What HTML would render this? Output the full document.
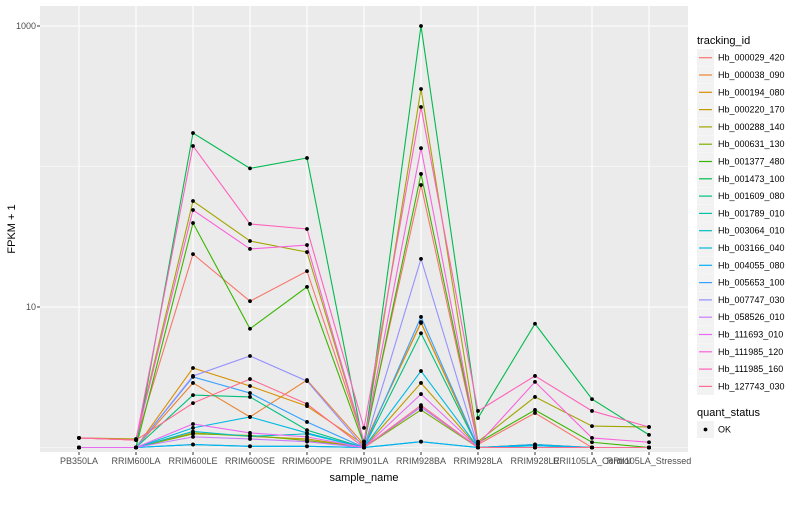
<!DOCTYPE html>
<html><head><meta charset="utf-8"><style>
body{margin:0;background:#fff;}
svg{font-family:"Liberation Sans",sans-serif;}
</style></head><body>
<svg id="chart" width="800" height="500"></svg>
<script>
const categories=["PB350LA","RRIM600LA","RRIM600LE","RRIM600SE","RRIM600PE","RRIM901LA","RRIM928BA","RRIM928LA","RRIM928LE","RRII105LA_Control","RRII105LA_Stressed"];
const seriesNames=["Hb_000029_420","Hb_000038_090","Hb_000194_080","Hb_000220_170","Hb_000288_140","Hb_000631_130","Hb_001377_480","Hb_001473_100","Hb_001609_080","Hb_001789_010","Hb_003064_010","Hb_003166_040","Hb_004055_080","Hb_005653_100","Hb_007747_030","Hb_058526_010","Hb_111693_010","Hb_111985_120","Hb_111985_160","Hb_127743_030"];
const seriesColors=["#F8766D","#EA8331","#D89000","#C09B00","#A3A500","#7CAE00","#39B600","#00BB4E","#00BF7D","#00C1A3","#00BFC4","#00BAE0","#00B0F6","#35A2FF","#9590FF","#C77CFF","#E76BF3","#FA62DB","#FF62BC","#FF6C91"];
const s000029_420=[1.17,1.13,23.8,11.0,18.0,1.1,73.8,1.05,1.76,1.0,1.0];
const s000038_090=[1.0,1.0,2.88,1.65,3.02,1.05,7.8,1.0,1.05,1.0,1.0];
const s000194_080=[1.0,1.0,3.68,2.74,1.97,1.05,7.7,1.0,1.05,1.0,1.0];
const s000220_170=[1.0,1.0,1.27,1.2,1.15,1.0,2.88,1.0,1.0,1.0,1.0];
const s000288_140=[1.17,1.15,56.8,29.5,24.6,1.1,356,1.1,2.29,1.42,1.40];
const s000631_130=[1.0,1.0,1.25,1.22,1.12,1.0,1.85,1.0,1.0,1.0,1.0];
const s001377_480=[1.0,1.0,39.6,7.0,13.9,1.05,88.5,1.08,1.85,1.09,1.0];
const s001473_100=[1.0,1.0,173,97,115,1.0,1000,1.62,7.6,2.21,1.23];
const s001609_080=[1.0,1.0,2.36,2.29,1.33,1.0,6.5,1.0,1.0,1.0,1.0];
const s001789_010=[1.0,1.0,1.05,1.02,1.02,1.0,1.1,1.0,1.03,1.0,1.0];
const s003064_010=[1.0,1.0,1.30,1.2,1.25,1.0,1.94,1.0,1.0,1.0,1.0];
const s003166_040=[1.0,1.0,1.38,1.65,1.27,1.0,3.5,1.0,1.03,1.0,1.0];
const s004055_080=[1.0,1.0,1.05,1.02,1.02,1.0,1.1,1.0,1.05,1.0,1.0];
const s005653_100=[1.0,1.0,3.18,2.44,1.52,1.0,8.5,1.0,1.0,1.0,1.0];
const s007747_030=[1.0,1.0,3.23,4.48,2.97,1.0,22,1.0,1.0,1.0,1.0];
const s058526_010=[1.0,1.0,1.19,1.15,1.1,1.0,1.94,1.0,1.0,1.0,1.0];
const s111693_010=[1.0,1.0,1.47,1.27,1.19,1.0,2.4,1.0,1.0,1.0,1.0];
const s111985_120=[1.17,1.13,49,25.9,27.6,1.1,135,1.05,2.93,1.17,1.09];
const s111985_160=[1.17,1.13,140,39,35.9,1.38,265,1.82,3.23,1.82,1.40];
const s127743_030=[1.17,1.13,2.07,3.07,2.04,1.0,2.0,1.0,1.0,1.0,1.0];
const seriesValues=[s000029_420,s000038_090,s000194_080,s000220_170,s000288_140,s000631_130,s001377_480,s001473_100,s001609_080,s001789_010,s003064_010,s003166_040,s004055_080,s005653_100,s007747_030,s058526_010,s111693_010,s111985_120,s111985_160,s127743_030];
const yTicks=[10,1000];
const yMinor=[1,100];

const NS="http://www.w3.org/2000/svg";
const svg=document.getElementById('chart');
const P={l:40,r:688,t:6,b:452};
function xs(i){return 79+i*57;}
function ys(v){return 447.5-Math.log10(v)*140.5;}
function el(t,a,parent){const e=document.createElementNS(NS,t);for(const k in a)e.setAttribute(k,a[k]);(parent||svg).appendChild(e);return e;}

const bg=el('rect',{x:P.l,y:P.t,width:P.r-P.l,height:P.b-P.t,fill:'#EBEBEB'});


yMinor.forEach(v=>{const l=el('line',{x1:P.l,x2:P.r,y1:ys(v),y2:ys(v),stroke:'#fff','stroke-width':0.5});

});
yTicks.forEach(v=>{const l=el('line',{x1:P.l,x2:P.r,y1:ys(v),y2:ys(v),stroke:'#fff','stroke-width':1.1});


const tk=el('line',{x1:P.l-3,x2:P.l,y1:ys(v),y2:ys(v),stroke:'#333','stroke-width':1});


const t=el('text',{x:P.l-4,y:ys(v)+3,'text-anchor':'end','font-size':9,fill:'#4d4d4d'});t.textContent=String(v);

});
categories.forEach((c,i)=>{const l=el('line',{x1:xs(i),x2:xs(i),y1:P.t,y2:P.b,stroke:'#fff','stroke-width':1.1});


const tk=el('line',{x1:xs(i),x2:xs(i),y1:P.b,y2:P.b+3,stroke:'#333','stroke-width':1});


const t=el('text',{x:xs(i),y:P.b+12,'text-anchor':'middle','font-size':9,fill:'#4d4d4d'});t.textContent=c;

});
seriesValues.forEach((vals,si)=>{
 const pl=el('polyline',{points:vals.map((v,i)=>xs(i)+','+ys(v)).join(' '),fill:'none',stroke:seriesColors[si],'stroke-width':1.1});
 
 
});
seriesValues.forEach((vals,si)=>{vals.forEach((v,i)=>{
 const c=el('circle',{cx:xs(i),cy:ys(v),r:1.9,fill:'#000'});
 
 
});});
const xt=el('text',{x:364,y:481,'text-anchor':'middle','font-size':11,fill:'#000'});xt.textContent='sample_name';


const yt=el('text',{x:0,y:0,'text-anchor':'middle','font-size':11,fill:'#000',transform:'translate(15,229) rotate(-90)'});yt.textContent='FPKM + 1';


const lt=el('text',{x:697,y:44,'font-size':11,fill:'#000'});lt.textContent='tracking_id';


seriesNames.forEach((n,i)=>{const cy=57.7+i*17.3;
 const g=el('g',{});
 
 
 el('rect',{x:697,y:cy-8.5,width:17,height:17,fill:'#F2F2F2'},g);
 el('line',{x1:699,x2:712,y1:cy,y2:cy,stroke:seriesColors[i],'stroke-width':1.2},g);
 const t=el('text',{x:718,y:cy+3,'font-size':9,fill:'#000'},g);t.textContent=n;});
const qt=el('text',{x:697,y:416,'font-size':11,fill:'#000'});qt.textContent='quant_status';


const g2=el('g',{});


el('rect',{x:697,y:421,width:17,height:17,fill:'#F2F2F2'},g2);
el('circle',{cx:705.5,cy:429.5,r:1.9,fill:'#000'},g2);
const ok=el('text',{x:718,y:432.5,'font-size':9,fill:'#000'},g2);ok.textContent='OK';
</script>
</body></html>
